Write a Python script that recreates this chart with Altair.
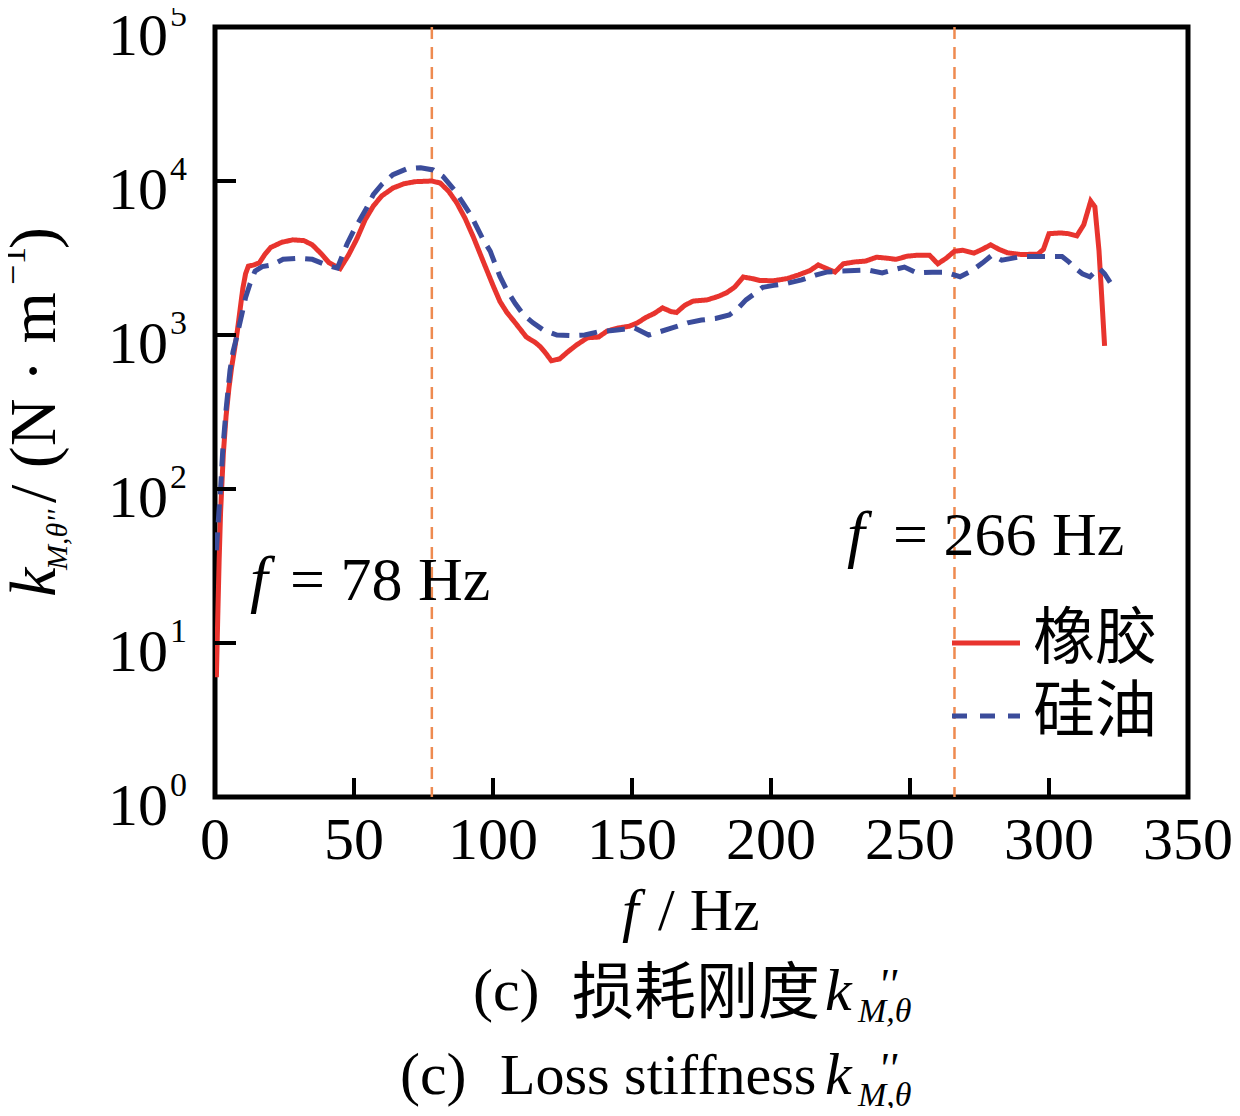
import altair as alt
import pandas as pd

# ---------------- data ----------------
rubber_f = [0.5, 1, 1.5, 2, 2.5, 3, 4, 5, 6, 7, 8, 9, 10, 11, 12, 14, 16, 18, 20, 24, 28, 32, 35, 38, 41, 45,
            48, 51, 54, 57, 60, 64, 68, 72, 78, 81, 84, 87, 90, 93, 96.5, 100, 102.5, 105, 108, 112, 115, 117,
            119, 121, 124, 127, 130, 134, 138, 141, 145, 149, 152, 155, 158, 161, 164, 166, 169, 172, 177, 181,
            184, 187, 190, 193, 196, 201, 206, 210, 214, 217, 220, 223, 226, 230, 234, 238, 242, 245, 249, 253,
            257, 260, 263, 266, 269, 273, 276, 279, 282, 285, 290, 296, 298, 300, 304, 307, 310, 312.5, 315,
            316.5, 318, 320]
rubber_k = [6, 15, 35, 70, 110, 170, 300, 450, 620, 800, 1050, 1450, 2000, 2500, 2800, 2850, 2950, 3350, 3700,
            4000, 4150, 4100, 3850, 3400, 2950, 2700, 3300, 4200, 5600, 6900, 8000, 9000, 9600, 9900, 10000,
            9700, 8600, 7200, 5700, 4300, 3000, 2100, 1650, 1400, 1200, 970, 900, 840, 760, 680, 700, 780, 860,
            960, 970, 1060, 1110, 1140, 1200, 1300, 1380, 1500, 1420, 1400, 1560, 1660, 1690, 1780, 1880, 2050,
            2380, 2330, 2260, 2250, 2330, 2460, 2620, 2850, 2700, 2560, 2900, 2980, 3020, 3200, 3150, 3100,
            3250, 3300, 3300, 2900, 3150, 3500, 3550, 3400, 3600, 3850, 3600, 3420, 3330, 3350, 3600, 4550,
            4600, 4550, 4400, 5200, 7400, 6800, 3500, 850]

oil_f = [0.5, 1, 1.5, 2, 2.8, 4, 5.4, 6.5, 7.8, 9.6, 11, 12.6, 14.4, 17, 20.5, 24.5, 30, 35, 40, 44, 47.5, 50,
         54.6, 57, 60, 64, 69, 74, 78.5, 82, 86, 89, 92, 96.5, 99, 102.5, 105, 108, 111, 114.4, 118, 123, 128,
         133, 138, 143, 147, 151, 156, 160, 165, 170, 175, 180, 185, 188, 191, 194, 197, 201, 205, 211, 216,
         220, 225, 230, 235, 240, 244, 248, 252.5, 258, 262.5, 268, 272, 276, 279.5, 283, 290, 296, 300,
         304.7, 307, 309, 312, 314.7, 318, 320, 322]
oil_k = [40, 55, 75, 100, 180, 330, 590, 780, 970, 1350, 1750, 2150, 2600, 2780, 2850, 3100, 3150, 3100, 2850,
         2720, 3900, 4800, 6700, 8200, 9500, 11000, 12000, 12200, 11800, 10700, 8800, 7300, 6000, 4150, 3500,
         2400, 1950, 1600, 1350, 1200, 1080, 1000, 990, 1000, 1050, 1070, 1090, 1110, 1000, 1050, 1120, 1200,
         1250, 1280, 1350, 1480, 1690, 1850, 2040, 2100, 2150, 2280, 2450, 2560, 2600, 2620, 2640, 2530, 2650,
         2760, 2530, 2560, 2560, 2390, 2600, 2930, 3300, 3060, 3230, 3230, 3230, 3230, 3000, 2760, 2500, 2390,
         2720, 2500, 2200]

series_names = ["橡胶", "硅油"]
series_colors = ["#E8342E", "#3B4C9B"]
marker_f = [78, 266]
x_ticks = [50, 100, 150, 200, 250, 300]
x_labels = [0, 50, 100, 150, 200, 250, 300, 350]
y_ticks = [10, 100, 1000, 10000]
y_labels = [1, 10, 100, 1000, 10000, 100000]
y_exps = ["0", "1", "2", "3", "4", "5"]

SERIF = "Liberation Serif"
CJK = "Noto Sans CJK SC"

# ---------------- frames ----------------
lines_df = pd.concat([
    pd.DataFrame({"f": rubber_f, "k": rubber_k, "series": series_names[0]}),
    pd.DataFrame({"f": oil_f, "k": oil_k, "series": series_names[1]}),
])

xscale = alt.Scale(domain=[0, 350], nice=False, zero=False)
yscale = alt.Scale(type="log", domain=[1, 100000], nice=False)
cscale = alt.Scale(domain=series_names, range=series_colors)
dscale = alt.Scale(domain=series_names, range=[[1, 0], [18, 10]])

lines = alt.Chart(lines_df).mark_line(strokeWidth=5, clip=True).encode(
    x=alt.X("f:Q", scale=xscale, axis=None),
    y=alt.Y("k:Q", scale=yscale, axis=None),
    color=alt.Color("series:N", scale=cscale, legend=None),
    strokeDash=alt.StrokeDash("series:N", scale=dscale, legend=None),
    detail="series:N",
)

vlines = alt.Chart(pd.DataFrame({"f": marker_f})).mark_rule(
    color="#EE8A50", strokeWidth=2.5, strokeDash=[12, 8]
).encode(x=alt.X("f:Q", scale=xscale, axis=None))

xt = alt.Chart(pd.DataFrame({"t": x_ticks})).mark_rule(color="black", strokeWidth=4).encode(
    x=alt.X("t:Q", scale=xscale, axis=None), y=alt.value(770), y2=alt.value(751)
)
yt = alt.Chart(pd.DataFrame({"t": y_ticks})).mark_rule(color="black", strokeWidth=4).encode(
    y=alt.Y("t:Q", scale=yscale, axis=None), x=alt.value(0), x2=alt.value(21)
)

xl = alt.Chart(pd.DataFrame({"v": x_labels})).mark_text(
    font=SERIF, fontSize=60, align="center", baseline="alphabetic", color="black"
).encode(x=alt.X("v:Q", scale=xscale, axis=None), y=alt.value(832), text=alt.Text("v:Q", format="d"))

yl_df = pd.DataFrame({"v": y_labels, "e": y_exps, "b": ["10"] * len(y_labels)})
yl = alt.Chart(yl_df).mark_text(
    font=SERIF, fontSize=60, align="right", baseline="middle", dy=10, color="black"
).encode(y=alt.Y("v:Q", scale=yscale, axis=None), x=alt.value(-47), text="b:N")
ye = alt.Chart(yl_df).mark_text(
    font=SERIF, fontSize=34, align="left", baseline="middle", dy=-11, color="black"
).encode(y=alt.Y("v:Q", scale=yscale, axis=None), x=alt.value(-45), text="e:N")


def txt(s, x, y, size, italic=False, font=SERIF, align="left", baseline="alphabetic", angle=0):
    kw = dict(font=font, fontSize=size, align=align, baseline=baseline, color="black")
    if italic:
        kw["fontStyle"] = "italic"
    if angle:
        kw["angle"] = angle
    return alt.Chart(pd.DataFrame({"t": [s]})).mark_text(**kw).encode(
        x=alt.value(x), y=alt.value(y), text="t:N"
    )


texts = [
    # y-axis title (rotated)
    txt("k", -160, 570, 66, italic=True, angle=270),
    txt("M,θ''", -148, 543, 30, italic=True, angle=270),
    txt("/ (N · m", -160, 476, 66, angle=270),
    txt("−1", -190, 258, 36, angle=270),
    txt(")", -160, 222, 66, angle=270),
    # annotations
    txt("f", 35, 573, 64, italic=True),
    txt("= 78 Hz", 75, 573, 62),
    txt("f", 632, 528, 64, italic=True),
    txt("= 266 Hz", 678, 528, 62),
    # legend labels
    txt(series_names[0], 818, 613, 62, font=CJK, baseline="middle"),
    txt(series_names[1], 818, 686, 62, font=CJK, baseline="middle"),
    # x title
    txt("f", 407, 903, 60, italic=True),
    txt("/ Hz", 443, 903, 60),
    # caption line 1
    txt("(c)", 258, 983, 60),
    txt("损耗刚度", 357, 987, 62, font=CJK),
    txt("k", 610, 983, 60, italic=True),
    txt("M,θ", 643, 995, 34, italic=True),
    txt("''", 663, 972, 44, italic=True),
    # caption line 2
    txt("(c)", 185, 1067, 60),
    txt("Loss stiffness", 285, 1067, 58),
    txt("k", 610, 1067, 60, italic=True),
    txt("M,θ", 643, 1079, 34, italic=True),
    txt("''", 663, 1056, 44, italic=True),
]

leg_r = alt.Chart(pd.DataFrame({"series": [series_names[0]]})).mark_rule(strokeWidth=5).encode(
    x=alt.value(737), x2=alt.value(805), y=alt.value(616),
    color=alt.Color("series:N", scale=cscale, legend=None),
)
leg_b = alt.Chart(pd.DataFrame({"series": [series_names[1]]})).mark_rule(
    strokeWidth=5, strokeDash=[15, 13]
).encode(
    x=alt.value(737), x2=alt.value(805), y=alt.value(689),
    color=alt.Color("series:N", scale=cscale, legend=None),
)

chart = alt.layer(vlines, lines, xt, yt, xl, yl, ye, leg_r, leg_b, *texts).properties(
    width=973,
    height=770,
    padding={"left": 207, "top": 19, "right": 44, "bottom": 311},
    autosize=alt.AutoSizeParams(type="none"),
    background="white",
).configure_view(stroke="black", strokeWidth=5)

chart.save("out.html", embed_options={"renderer": "svg", "actions": False})
